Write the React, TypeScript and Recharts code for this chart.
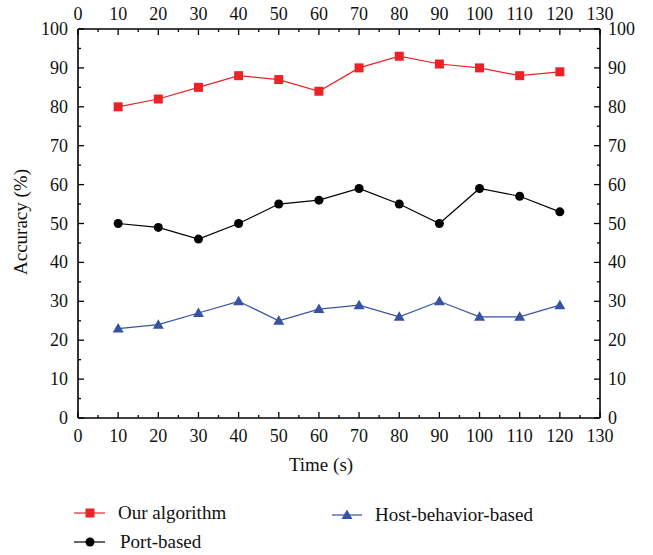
import React from 'react';
import { LineChart, Line, XAxis, YAxis } from 'recharts';

const times = [10, 20, 30, 40, 50, 60, 70, 80, 90, 100, 110, 120];
const ourAlgorithm = [80, 82, 85, 88, 87, 84, 90, 93, 91, 90, 88, 89];
const portBased = [50, 49, 46, 50, 55, 56, 59, 55, 50, 59, 57, 53];
const hostBehavior = [23, 24, 27, 30, 25, 28, 29, 26, 30, 26, 26, 29];
const xTicks = Array.from({ length: 27 }, (_, i) => i * 5);
const yTicks = Array.from({ length: 21 }, (_, i) => i * 5);

const data = times.map((t, i) => ({
  t,
  our: ourAlgorithm[i],
  port: portBased[i],
  host: hostBehavior[i],
}));

const RED = '#ec2227';
const BLUE = '#3953a4';
const FONT = "'Liberation Serif', serif";

const makeTick = (side: 'bottom' | 'top' | 'left' | 'right') => (props: any) => {
  const { x, y, payload } = props;
  const v = payload.value;
  const major = v % 10 === 0;
  const len = major ? 6 : 3;
  let line: any;
  let text: any = null;
  const tp = { fontFamily: FONT, fontSize: 18, fill: '#111' };
  if (side === 'bottom') {
    line = <line x1={x} y1={y} x2={x} y2={y - len} stroke="#000" strokeWidth={1.3} />;
    if (major) text = <text x={x} y={y + 24} textAnchor="middle" {...tp}>{v}</text>;
  } else if (side === 'top') {
    line = <line x1={x} y1={y} x2={x} y2={y + len} stroke="#000" strokeWidth={1.3} />;
    if (major) text = <text x={x} y={y - 9} textAnchor="middle" {...tp}>{v}</text>;
  } else if (side === 'left') {
    line = <line x1={x} y1={y} x2={x + len} y2={y} stroke="#000" strokeWidth={1.3} />;
    if (major) text = <text x={x - 10} y={y + 6} textAnchor="end" {...tp}>{v}</text>;
  } else {
    line = <line x1={x} y1={y} x2={x - len} y2={y} stroke="#000" strokeWidth={1.3} />;
    if (major) text = <text x={x + 8} y={y + 6} textAnchor="start" {...tp}>{v}</text>;
  }
  return (
    <g>
      {line}
      {text}
    </g>
  );
};

const SquareDot = (props: any) => {
  const { cx, cy, index } = props;
  return <rect key={`sq-${index}`} x={cx - 4.5} y={cy - 4.5} width={9} height={9} fill={RED} />;
};
const CircleDot = (props: any) => {
  const { cx, cy, index } = props;
  return <circle key={`ci-${index}`} cx={cx} cy={cy} r={4.5} fill="#000" />;
};
const TriDot = (props: any) => {
  const { cx, cy, index } = props;
  return (
    <path
      key={`tr-${index}`}
      d={`M${cx},${cy - 5.5} L${cx + 5.5},${cy + 4} L${cx - 5.5},${cy + 4} Z`}
      fill={BLUE}
    />
  );
};

const LegendBlock = () => {
  const tp = { fontFamily: FONT, fontSize: 19, fill: '#111' };
  return (
    <svg
      width={653}
      height={65}
      style={{ position: 'absolute', left: 0, top: 490, display: 'block' }}
    >
      <line x1={74} y1={23} x2={105} y2={23} stroke={RED} strokeWidth={1.2} />
      <rect x={85.5} y={18.5} width={9} height={9} fill={RED} />
      <text x={118} y={29} {...tp}>Our algorithm</text>
      <line x1={74} y1={52} x2={105} y2={52} stroke="#000" strokeWidth={1.2} />
      <circle cx={90} cy={52} r={4.5} fill="#000" />
      <text x={120} y={58} {...tp}>Port-based</text>
      <line x1={332} y1={25} x2={362} y2={25} stroke={BLUE} strokeWidth={1.2} />
      <path d="M347,19.5 L352.5,29 L341.5,29 Z" fill={BLUE} />
      <text x={375} y={31} {...tp}>Host-behavior-based</text>
    </svg>
  );
};

const axisLine = { stroke: '#000', strokeWidth: 1.6 };

export default function App() {
  return (
    <div style={{ position: 'absolute', left: 0, top: 0, width: 653, height: 555, background: '#fff' }}>
      <LineChart
        width={653}
        height={555}
        data={data}
        margin={{ top: 28, right: 52, bottom: 136, left: 77 }}
      >
        <XAxis
          xAxisId="b"
          dataKey="t"
          type="number"
          domain={[0, 130]}
          ticks={xTicks}
          orientation="bottom"
          height={1}
          tickSize={0}
          tickMargin={0}
          tickLine={false}
          axisLine={axisLine}
          tick={makeTick('bottom')}
          interval={0}
          allowDataOverflow
        />
        <XAxis
          xAxisId="t"
          dataKey="t"
          type="number"
          domain={[0, 130]}
          ticks={xTicks}
          orientation="top"
          height={1}
          tickSize={0}
          tickMargin={0}
          tickLine={false}
          axisLine={axisLine}
          tick={makeTick('top')}
          interval={0}
          allowDataOverflow
        />
        <YAxis
          yAxisId="l"
          type="number"
          domain={[0, 100]}
          ticks={yTicks}
          orientation="left"
          width={1}
          tickSize={0}
          tickMargin={0}
          tickLine={false}
          axisLine={axisLine}
          tick={makeTick('left')}
          interval={0}
          allowDataOverflow
        />
        <YAxis
          yAxisId="r"
          type="number"
          domain={[0, 100]}
          ticks={yTicks}
          orientation="right"
          width={1}
          tickSize={0}
          tickMargin={0}
          tickLine={false}
          axisLine={axisLine}
          tick={makeTick('right')}
          interval={0}
          allowDataOverflow
        />
        <Line xAxisId="b" yAxisId="l" dataKey="our" stroke={RED} strokeWidth={1.2} dot={SquareDot} isAnimationActive={false} />
        <Line xAxisId="b" yAxisId="l" dataKey="port" stroke="#000" strokeWidth={1.2} dot={CircleDot} isAnimationActive={false} />
        <Line xAxisId="b" yAxisId="l" dataKey="host" stroke={BLUE} strokeWidth={1.2} dot={TriDot} isAnimationActive={false} />
      </LineChart>
      <LegendBlock />
      <svg width={653} height={555} style={{ position: 'absolute', left: 0, top: 0, pointerEvents: 'none' }}>
        <text x={321} y={471} textAnchor="middle" fontFamily={FONT} fontSize={19} fill="#111">
          Time (s)
        </text>
        <text
          x={0}
          y={0}
          transform="translate(27,222) rotate(-90)"
          textAnchor="middle"
          fontFamily={FONT}
          fontSize={19}
          fill="#111"
        >
          Accuracy (%)
        </text>
      </svg>
    </div>
  );
}
